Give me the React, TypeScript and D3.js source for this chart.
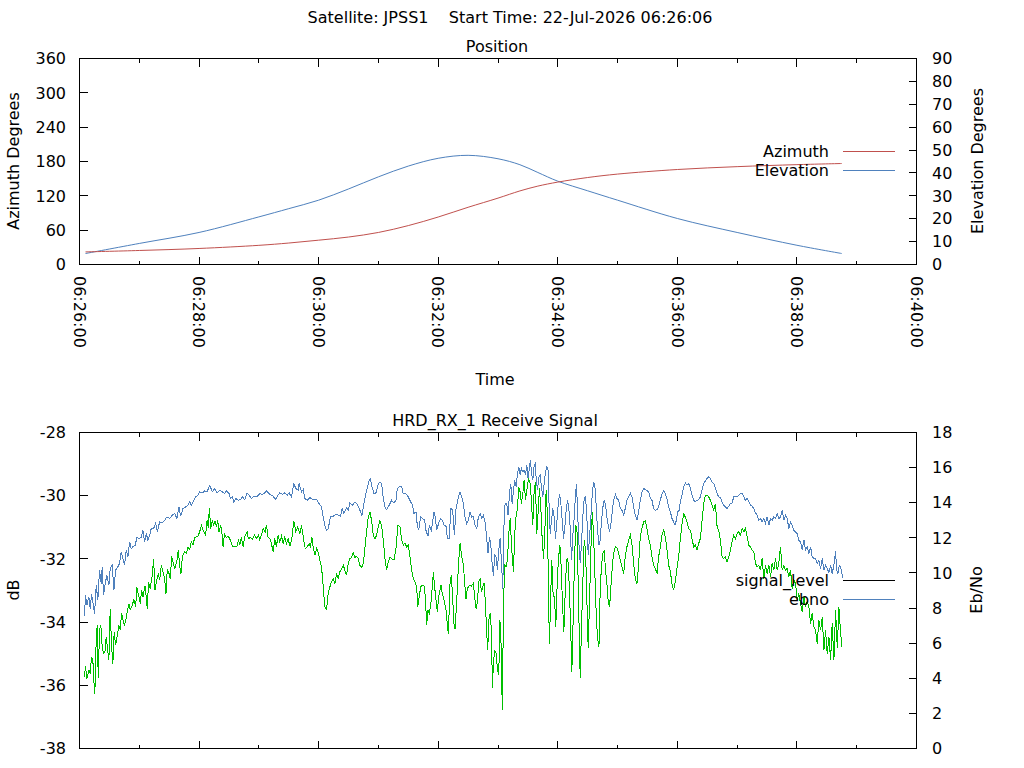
import React from 'react'
import * as d3 from 'd3'

// pass start, seconds are counted from 06:26:00 UTC
const passStart = Date.UTC(2026, 6, 22, 6, 26, 0)
const passEnd = Date.UTC(2026, 6, 22, 6, 40, 0)

const posTimes = [6, 60, 120, 180, 210, 240, 270, 300, 330, 360, 390, 420, 442, 460, 480, 510, 540, 600, 660, 720, 765]
const azimuth = [22, 24.5, 28, 33.5, 37.5, 42.5, 48, 56, 68, 83, 100, 116, 128.6, 137, 144, 152, 158, 166, 171, 174.5, 176.5]
const elevation = [4.8, 9.2, 14.0, 20.8, 24.4, 28.1, 33.0, 38.3, 43.0, 46.4, 47.7, 46.2, 43.6, 40.2, 36.4, 32.2, 28.1, 20.1, 14.0, 8.4, 4.8]

const azTicks = [0, 60, 120, 180, 240, 300, 360]
const elTicks = [0, 10, 20, 30, 40, 50, 60, 70, 80, 90]
const dbTicks = [-38, -36, -34, -32, -30, -28]
const ebTicks = [0, 2, 4, 6, 8, 10, 12, 14, 16, 18]

// [seconds, Eb/No]
const ebno: [number, number][] = [
  [5,7.54],[6,8.73],[7.4,8.16],[9.4,8.64],[10.7,7.97],[12.1,8.79],[14.1,8.07],[15.1,7.69],[16.8,9.30],[18.4,8.45],[20.1,10.16],[21.8,9.40],[22.8,10.35],[24.1,8.73],[26.1,9.49],[27.5,9.87],[29.5,9.30],[30.8,10.25],[32.8,10.44],[34.5,9.02],[36.2,10.16],[38.5,10.35],[40.2,10.54],[41.9,11.20],[43.6,10.82],[45.2,10.44],[46.9,11.30],[48.6,10.92],[50.3,11.77],[51.9,11.39],[53.6,11.49],[55.9,11.58],[57.6,12.02],[59.6,11.96],[62.0,12.02],[63.7,12.43],[65.3,11.77],[67.0,12.24],[68.7,11.86],[70.4,12.15],[72.0,12.53],[74.4,12.53],[76.4,12.85],[78.1,12.34],[80.4,12.91],[83.1,12.85],[85.4,13.00],[87.8,13.19],[90.5,13.10],[93.1,13.29],[95.5,13.38],[97.8,13.10],[99.8,13.76],[101.5,13.23],[103.9,13.67],[106.5,13.76],[108.9,13.86],[110.6,14.05],[112.2,13.86],[114.6,14.14],[116.6,14.33],[118.9,14.43],[120.6,14.62],[123.3,14.56],[125.6,14.67],[128.0,14.62],[130.7,14.99],[133.3,14.62],[135.7,14.81],[138.0,14.56],[140.7,14.71],[143.4,14.62],[145.7,14.52],[147.4,14.67],[150.1,14.52],[151.4,14.24],[153.4,14.33],[154.8,14.05],[156.8,14.24],[159.1,14.14],[161.5,14.18],[163.5,14.33],[165.8,14.18],[168.2,14.56],[170.9,14.37],[172.5,14.24],[174.9,14.37],[177.6,14.33],[180.9,14.52],[183.6,14.48],[185.9,14.56],[187.6,14.67],
  [191.0,14.48],[194.3,14.37],[197.0,14.18],[199.3,14.43],[201.0,14.56],[203.7,14.48],[206.0,14.56],[208.4,14.43],[210.4,14.56],[212.7,14.33],[215.1,15.09],[217.1,14.81],[219.4,14.71],[220.4,15.09],[222.8,14.62],[224.5,14.75],[226.1,14.24],[228.5,14.14],[231.2,14.29],[234.5,14.18],[237.9,14.18],[240.5,13.95],[242.9,13.76],[244.6,13.19],[246.2,12.72],[247.9,12.43],[249.6,12.53],[251.9,13.19],[254.6,13.23],[257.3,13.35],[259.6,13.29],[262.0,13.23],[263.6,13.67],[265.3,13.38],[268.0,13.72],[269.7,13.57],[271.4,13.99],[274.0,13.86],[276.4,14.05],[278.7,13.91],[281.4,13.57],[283.4,13.29],[285.4,13.95],[287.4,14.52],[289.1,14.90],[290.8,15.28],[292.1,15.38],[293.1,15.00],[295.5,14.52],[297.5,14.56],[299.5,15.00],[301.5,15.19],[303.2,15.09],[304.9,14.24],[306.5,13.76],[308.2,13.61],[310.9,13.86],[313.2,14.14],[315.6,13.99],[317.6,14.14],[318.9,14.81],[320.9,14.90],[323.3,14.94],[324.9,14.52],[327.6,14.52],[330.0,14.33],[332.3,14.05],[334.3,13.86],[335.7,13.38],[337.7,13.48],[339.0,12.72],[340.4,12.43],[342.4,13.19],[344.4,13.10],[346.4,13.00],[347.7,12.43],[349.7,12.09],[351.1,12.72],[353.1,12.43],[354.4,12.91],[355.8,13.48],[357.1,13.19],[358.5,12.43],[360.5,12.85],[362.5,13.10],[364.5,12.97],[365.8,12.72],[367.8,12.66],[369.2,11.96],[371.2,11.96],[372.5,13.67],[374.5,13.61],[376.2,12.15],[377.9,13.67],[380.2,14.33],
  [381.9,14.62],[383.6,14.33],[385.3,13.95],[386.9,13.19],[388.6,12.81],[390.3,13.00],[391.9,13.48],[393.6,13.19],[395.3,13.23],[397.0,12.72],[398.7,12.53],[400.3,13.19],[402.0,13.38],[403.7,13.10],[405.4,13.29],[407.0,12.91],[408.7,11.96],[410.0,11.11],[411.4,12.06],[412.7,11.68],[414.1,10.54],[415.4,9.81],[416.7,11.01],[418.1,10.92],[419.4,10.16],[420.8,11.30],[422.1,11.96],[423.4,10.73],[424.8,9.11],[425.8,12.43],[427.1,13.95],[428.8,13.95],[430.1,13.29],[431.5,14.52],[432.8,15.09],[434.2,13.95],[435.5,14.71],[436.8,15.28],[438.2,14.90],[439.5,15.66],[440.9,16.04],[442.2,15.57],[443.5,15.95],[444.9,15.76],[446.2,15.85],[447.6,15.57],[448.9,16.14],[450.2,15.38],[451.6,16.04],[452.6,16.42],[453.6,15.66],[454.9,15.28],[456.3,16.14],[457.3,16.23],[458.3,15.38],[459.6,14.71],[461.0,15.47],[462.3,15.57],[463.6,14.90],[465.0,14.33],[466.3,15.09],[467.7,15.76],[469.0,16.04],[470.3,15.85],[471.3,13.76],[472.4,12.24],[473.7,13.00],[475.0,13.67],[476.4,13.19],[477.7,11.96],[479.1,12.91],[480.4,13.86],[481.7,14.52],[483.1,13.95],[484.4,13.00],[485.8,11.96],[487.1,12.62],[488.4,13.57],[489.8,14.14],[491.1,13.67],[492.5,12.53],[493.8,10.73],[495.1,12.15],[496.5,13.19],[497.8,14.52],[498.8,15.09],[499.8,13.57],[501.2,11.68],[502.5,10.54],[503.8,11.68],[505.2,13.29],[506.5,14.24],[507.9,14.33],[509.2,13.19],[510.5,11.01],[511.9,12.06],[513.2,13.19],[514.6,14.52],[515.9,15.19],[517.2,15.00],[518.6,13.76],[519.9,12.43],[521.3,11.58],[522.6,11.86],[523.9,13.00],[525.3,13.76],[526.6,14.14],[527.9,13.86],[529.3,13.19],[530.6,12.72],[532.0,12.34],[533.3,12.81],[534.7,13.48],[536.0,14.14],[538.0,14.48],[539.4,14.24],[541.0,14.14],[542.7,13.67],[544.4,13.57],[546.1,13.29],[547.7,13.67],[549.4,14.14],[551.1,14.33],[552.8,14.56],[554.4,14.33],[556.1,13.76],[557.8,13.29],[559.5,13.00],[561.1,13.48],[562.8,14.14],[564.5,14.62],[566.2,14.81],[568.8,14.71],[571.2,14.62],
  [572.9,14.24],[574.5,14.14],[576.2,13.67],[577.9,13.57],[579.6,13.61],[581.2,13.76],[582.9,14.14],[584.6,14.52],[586.3,14.67],[587.9,14.52],[589.6,14.24],[591.3,13.76],[593.0,13.48],[594.6,13.10],[596.3,12.91],[597.6,12.72],[599.0,13.00],[600.3,13.48],[601.7,13.57],[603.0,14.05],[604.7,14.43],[606.4,14.90],[608.0,15.13],[609.7,15.00],[611.4,15.09],[613.1,14.81],[614.7,14.43],[616.4,14.14],[618.1,14.05],[619.8,14.14],[621.4,14.18],[623.1,14.33],[624.8,14.75],[626.5,15.09],[628.1,15.24],[629.8,15.38],[631.5,15.47],[633.2,15.38],[634.8,15.19],[636.5,15.09],[638.2,14.81],[639.9,14.52],[641.5,14.33],[643.2,14.29],[644.9,14.05],[646.6,13.86],[648.2,13.76],[649.9,13.67],[651.6,13.80],[653.3,13.95],[654.9,13.99],[656.6,14.33],[658.3,14.37],[660.0,14.33],[661.6,14.43],[663.3,14.52],[665.0,14.52],[666.7,14.33],[668.3,14.14],[670.0,14.24],[671.7,14.05],[673.4,13.86],[675.0,13.80],[676.7,13.67],[678.4,13.42],[680.1,13.29],[681.7,13.00],[683.4,13.10],[685.1,12.91],[686.8,13.10],[688.4,12.81],[690.1,13.19],[691.8,12.72],[693.5,13.10],[695.1,13.00],[696.8,13.19],[698.5,13.10],[700.2,13.38],[701.8,13.10],[703.5,13.19],[705.2,13.57],[706.9,13.00],[708.5,13.29],[710.2,13.10],[711.9,12.53],[713.6,12.91],[715.2,12.72],[716.9,12.43],[718.6,12.34],[720.3,12.24],[721.9,11.86],[723.6,11.77],[725.3,11.30],[727.0,11.90],[728.6,11.30],[730.3,11.49],[732.0,11.11],[733.7,11.49],[735.3,10.92],[737.0,10.82],[738.7,10.82],[740.4,10.54],[742.0,10.73],[743.7,10.25],[745.4,10.82],[747.1,10.16],[748.7,10.44],[750.4,10.25],[752.1,10.01],[753.8,10.44],[755.4,9.97],[757.1,10.44],[758.8,11.26],[759.8,10.16],[761.1,9.97],[762.5,10.44],[763.8,10.35],[765.1,9.97],[766.5,9.68],
]

// [seconds, Eb/No] green trace
const rxTrace: [number, number][] = [
  [5,4.08],[6,4.69],[7.4,3.99],[9.4,4.46],[10.7,4.27],[12.1,5.22],[13.4,5.03],[14.7,3.61],[15.4,3.10],[16.8,6.27],[17.8,7.02],[18.8,3.99],[20.1,6.74],[21.4,7.02],[22.8,5.79],[24.1,5.41],[25.5,5.51],[26.8,6.36],[28.1,5.70],[29.5,5.03],[30.8,7.92],[32.2,5.79],[33.5,4.84],[34.8,6.64],[36.2,5.89],[37.5,6.27],[39.5,7.02],[40.9,6.74],[42.2,7.73],[43.6,7.31],[44.9,7.02],[46.2,7.22],[47.6,7.69],[49.6,8.22],[50.9,7.92],[52.9,8.16],[54.6,8.49],[56.3,8.07],[57.6,9.17],[59.6,8.64],[61.0,8.26],[62.3,9.02],[63.7,8.64],[65.7,9.25],[67.0,8.64],[68.0,7.92],[69.3,9.49],[71.0,9.11],[73.0,9.87],[74.4,10.82],[75.7,9.02],[77.1,9.49],[79.1,9.97],[80.4,9.59],[82.1,10.44],[83.8,10.06],[85.4,9.68],[86.8,8.83],[88.1,10.20],[89.8,9.97],[91.1,9.68],[92.5,10.95],[94.5,10.44],[95.8,10.25],[97.8,10.73],[99.2,11.30],[100.5,10.44],[101.8,9.97],[103.2,10.92],[105.2,11.20],[107.2,11.11],[108.9,11.49],[110.6,11.33],[112.2,11.77],[113.9,11.58],[115.6,12.02],[117.3,12.06],[118.9,12.09],[120.6,12.34],[122.3,12.72],[124.0,12.43],[126.6,12.15],[128.0,13.00],[129.3,12.59],[130.3,13.67],[131.7,12.53],[133.3,13.00],[134.7,12.72],[136.0,12.97],[137.4,12.62],[138.7,13.00],[140.0,12.34],[141.7,12.72],[143.0,12.24],[144.1,11.49],[145.4,12.21],[147.4,12.02],[149.4,12.09],[151.4,11.86],[153.4,11.52],[155.8,11.52],[158.1,11.52],[159.5,11.90],[160.8,11.58],[162.5,12.02],[164.2,11.49],[165.8,12.06],[168.2,12.34],[169.5,11.96],[171.5,12.02],[173.5,11.90],[175.5,12.15],[177.6,11.96],[179.6,12.15],[180.9,11.90],[182.9,12.24],[184.3,12.53],[186.3,12.34],[187.6,12.72],[189.3,12.02],
  [191.0,11.96],[192.6,11.68],[194.3,11.20],[196.0,11.96],[197.6,11.49],[199.3,12.15],[201.0,11.77],[202.7,12.09],[204.4,11.68],[206.0,12.02],[207.7,11.68],[209.4,11.96],[211.1,11.52],[213.1,11.96],[215.1,12.97],[217.1,12.34],[219.1,12.62],[221.1,12.24],[222.8,12.72],[224.5,12.06],[226.5,11.39],[228.5,11.49],[230.5,11.68],[231.8,11.49],[233.2,12.06],[234.5,11.49],[236.2,11.01],[237.9,11.39],[239.5,11.20],[241.2,10.73],[242.9,10.35],[244.6,9.21],[246.2,8.07],[247.9,7.92],[249.6,8.83],[251.3,9.21],[252.9,9.49],[254.6,9.68],[256.3,9.40],[258.0,9.97],[259.6,9.68],[261.3,10.06],[263.0,10.25],[264.7,10.44],[266.3,10.16],[268.0,9.87],[269.7,10.54],[271.4,10.82],[273.0,10.88],[274.7,11.14],[276.4,10.88],[278.1,10.95],[279.7,10.82],[281.4,10.44],[283.1,10.31],[284.8,10.54],[286.4,11.39],[288.1,12.34],[289.8,13.19],[291.5,13.48],[293.1,13.00],[294.8,12.15],[296.5,11.96],[298.2,12.15],[299.8,12.62],[301.5,12.97],[303.2,12.72],[304.9,11.86],[306.5,10.82],[308.2,10.16],[309.9,10.63],[311.6,10.92],[313.2,10.82],[315.6,10.73],[317.6,11.39],[319.6,12.72],[321.6,12.62],[323.3,11.86],[325.0,11.58],[326.6,11.71],[328.3,11.49],[330.0,11.58],[331.7,10.92],[333.3,10.16],[335.0,9.68],[336.7,9.49],[338.4,9.21],[339.4,8.07],[341.0,8.64],[342.4,9.21],[343.7,9.30],[345.7,9.30],[347.1,8.64],[348.4,7.02],[349.7,7.88],[351.1,7.69],[352.8,8.35],[354.4,9.49],[355.1,10.06],[356.4,9.21],[357.8,8.45],[359.1,7.78],[360.5,8.64],[361.8,9.02],[362.8,9.30],[364.1,8.83],[365.2,8.64],[366.5,8.26],[367.8,7.88],[369.2,7.02],[370.2,6.55],[371.2,8.16],[371.9,9.49],[373.2,9.87],[374.5,8.54],[375.9,7.02],[376.9,6.83],[377.9,7.78],[379.2,9.11],[380.2,10.35],
  [381.9,11.68],[383.6,10.92],[385.3,10.44],[386.6,9.40],[387.9,8.54],[389.3,9.11],[391.3,9.30],[393.3,9.25],[395.3,9.40],[396.6,8.64],[398.0,7.97],[399.3,8.35],[400.7,9.49],[402.0,9.68],[403.3,8.92],[404.7,9.21],[406.0,9.40],[407.4,8.26],[408.7,6.55],[409.7,5.60],[410.7,7.31],[412.1,7.69],[413.4,6.74],[414.4,3.42],[415.4,4.84],[416.7,5.60],[418.1,5.41],[419.4,4.55],[420.8,4.17],[421.8,7.31],[422.8,6.74],[423.8,3.51],[424.4,2.18],[425.5,8.26],[426.8,10.44],[428.1,10.35],[429.5,10.73],[430.8,12.24],[432.2,13.10],[432.8,12.43],[434.2,11.01],[435.5,10.06],[436.8,12.24],[438.2,13.29],[439.5,13.67],[440.9,14.90],[442.2,14.62],[443.5,13.95],[444.9,14.52],[446.2,15.28],[447.6,14.14],[448.9,14.71],[450.6,15.38],[452.3,15.09],[453.6,14.05],[454.9,12.72],[456.3,14.71],[457.6,15.19],[458.9,12.24],[460.3,13.48],[461.6,14.81],[463.0,13.67],[464.3,11.96],[465.7,10.82],[467.0,12.34],[468.3,14.71],[469.7,13.19],[470.7,8.26],[471.7,5.98],[472.7,8.45],[474.0,10.73],[475.4,8.64],[476.7,8.64],[478.0,6.93],[479.4,9.40],[480.7,10.82],[482.1,11.58],[483.4,10.35],[484.7,8.26],[486.1,6.64],[487.4,8.83],[488.8,10.73],[490.1,10.82],[491.4,9.40],[492.8,7.12],[494.1,4.36],[495.5,7.50],[496.8,10.82],[498.1,12.72],[499.5,12.24],[500.8,8.45],[502.5,3.99],[503.8,6.93],[505.2,9.59],[506.5,11.86],[507.9,11.30],[509.2,8.45],[510.5,5.70],[511.9,8.45],[513.2,11.30],[514.6,13.48],[515.9,12.24],[517.2,9.97],[518.6,7.59],[519.9,6.27],[521.3,5.79],[522.6,9.11],[523.9,10.44],[525.3,11.11],[526.6,11.30],[527.9,10.16],[529.3,9.40],[530.6,8.35],[532.0,8.07],[533.3,9.21],[534.7,10.35],[536.0,11.11],[537.7,11.49],[539.4,11.45],[541.0,11.11],[542.7,10.73],[544.4,10.35],[546.1,9.97],[547.7,10.92],[549.4,11.49],[551.1,11.86],[552.8,12.15],[554.4,11.68],[556.1,10.54],[557.8,9.68],[559.5,9.40],[561.1,10.44],[562.8,12.06],[564.5,12.53],[566.2,12.91],[567.8,12.97],[569.5,12.53],[571.2,11.96],
  [572.9,11.58],[574.5,10.92],[576.2,10.44],[577.9,10.25],[579.6,9.97],[581.2,10.92],[582.9,11.49],[584.6,12.15],[586.3,12.43],[587.9,12.06],[589.6,11.30],[591.3,10.44],[593.0,10.06],[594.6,9.40],[596.3,9.02],[597.9,9.49],[599.6,10.25],[601.3,10.92],[603.0,11.96],[604.7,12.81],[606.4,13.35],[608.0,13.19],[609.7,12.91],[611.4,12.53],[613.1,12.43],[614.7,11.96],[616.4,11.49],[618.1,11.58],[619.8,11.30],[621.4,11.68],[623.1,11.96],[624.8,13.00],[626.5,13.95],[628.1,14.43],[629.8,14.43],[631.5,14.33],[633.2,14.14],[634.8,13.86],[636.5,13.57],[638.2,13.95],[639.9,12.62],[641.5,12.43],[643.2,11.86],[644.9,10.92],[646.6,10.82],[648.2,10.92],[649.9,10.63],[651.6,10.92],[653.3,11.30],[654.9,11.77],[656.6,12.15],[658.3,11.96],[660.0,12.24],[661.6,12.34],[663.3,12.15],[665.0,12.53],[666.7,12.34],[668.3,12.53],[670.0,12.06],[671.7,11.58],[673.4,11.49],[675.0,11.30],[676.7,11.20],[678.4,10.54],[680.1,10.35],[681.7,10.44],[683.4,10.16],[685.1,10.82],[686.8,9.68],[688.4,10.44],[690.1,9.97],[691.8,10.44],[693.5,9.78],[695.1,10.54],[696.8,10.16],[698.5,10.82],[700.2,10.16],[701.8,10.54],[703.5,11.49],[705.2,10.16],[706.9,10.44],[708.5,10.16],[710.2,10.25],[711.9,9.78],[713.6,10.16],[715.2,9.11],[716.9,9.59],[718.6,9.40],[720.3,8.45],[721.9,8.83],[723.6,8.26],[725.3,7.78],[727.0,8.64],[728.6,8.07],[730.3,8.35],[732.0,8.07],[733.7,7.12],[735.3,7.69],[737.0,6.93],[738.7,6.74],[740.4,5.98],[742.0,7.31],[743.7,6.74],[745.4,7.50],[747.1,5.60],[748.7,6.74],[750.4,5.41],[752.1,6.36],[753.8,5.03],[755.4,7.12],[757.1,5.03],[758.8,7.88],[760.5,5.70],[762.1,8.07],[763.8,6.64],[765.1,5.79],
]

const RED = '#c0504d'
const BLUE = '#4f81bd'
const GREEN = '#00c000'
const FONT = 'DejaVu Sans'

const L = 79.5, R = 916.5
const top1 = 58.5, bot1 = 264.5
const top2 = 432.5, bot2 = 748.5

const toDate = (s: number) => new Date(passStart + s * 1000)

const App: React.FC = () => {
  const x = d3.scaleUtc().domain([new Date(passStart), new Date(passEnd)]).range([L, R])
  const azY = d3.scaleLinear().domain([0, 360]).range([bot1, top1])
  const elY = d3.scaleLinear().domain([0, 90]).range([bot1, top1])
  const dbY = d3.scaleLinear().domain([-38, -28]).range([bot2, top2])
  const ebY = d3.scaleLinear().domain([0, 18]).range([bot2, top2])

  const majorX = x.ticks(d3.utcMinute.every(2) as d3.TimeInterval)
  const minorX = x.ticks(d3.utcMinute.every(1) as d3.TimeInterval).filter(d => d.getUTCMinutes() % 2 === 1)
  const fmt = d3.utcFormat('%H:%M:%S')

  const smooth = d3.curveCatmullRom.alpha(0.5)
  const azLine = d3.line<number>().x((_, i) => x(toDate(posTimes[i]))).y(d => azY(d)).curve(smooth)
  const elLine = d3.line<number>().x((_, i) => x(toDate(posTimes[i]))).y(d => elY(d)).curve(smooth)
  const sigLine = d3.line<[number, number]>().x(d => x(toDate(d[0]))).y(d => ebY(d[1]))

  const xTicks = (yb: number, yt: number) => (
    <g stroke="#000" strokeWidth={1} shapeRendering="crispEdges">
      {majorX.map((d, i) => (
        <g key={'M' + i}>
          <line x1={x(d)} x2={x(d)} y1={yb} y2={yb - 8} />
          <line x1={x(d)} x2={x(d)} y1={yt} y2={yt + 8} />
        </g>
      ))}
      {minorX.map((d, i) => (
        <g key={'m' + i}>
          <line x1={x(d)} x2={x(d)} y1={yb} y2={yb - 4} />
          <line x1={x(d)} x2={x(d)} y1={yt} y2={yt + 4} />
        </g>
      ))}
    </g>
  )

  const yAxisLeft = (ticks: number[], s: d3.ScaleLinear<number, number>) => (
    <g>
      {ticks.map(t => (
        <g key={t}>
          <line x1={L} x2={L + 8} y1={s(t)} y2={s(t)} stroke="#000" shapeRendering="crispEdges" />
          <text x={66} y={s(t)} dy="0.36em" textAnchor="end">{t}</text>
        </g>
      ))}
    </g>
  )
  const yAxisRight = (ticks: number[], s: d3.ScaleLinear<number, number>) => (
    <g>
      {ticks.map(t => (
        <g key={t}>
          <line x1={R} x2={R - 8} y1={s(t)} y2={s(t)} stroke="#000" shapeRendering="crispEdges" />
          <text x={932} y={s(t)} dy="0.36em" textAnchor="start">{t}</text>
        </g>
      ))}
    </g>
  )

  const legend = (items: { label: string; color: string }[], y0: number, gap: number) => (
    <g>
      {items.map((it, i) => (
        <g key={it.label}>
          <text x={829} y={y0 + i * gap} dy="0.36em" textAnchor="end">{it.label}</text>
          <line x1={843} x2={895} y1={y0 + i * gap} y2={y0 + i * gap} stroke={it.color} shapeRendering="crispEdges" />
        </g>
      ))}
    </g>
  )

  return (
    <svg width={1024} height={768} style={{ position: 'absolute', left: 0, top: 0, background: '#fff' }}
      fontFamily={FONT} fontSize={16} fill="#000">
      <rect width={1024} height={768} fill="#fff" />
      <text x={510} y={17} dy="0.36em" textAnchor="middle" style={{ whiteSpace: 'pre' }}>
        {'Satellite: JPSS1    Start Time: 22-Jul-2026 06:26:06'}
      </text>

      {/* Position panel */}
      <text x={497} y={46} dy="0.36em" textAnchor="middle">Position</text>
      <path d={elLine(elevation) || ''} fill="none" stroke={BLUE} strokeWidth={1} />
      <path d={azLine(azimuth) || ''} fill="none" stroke={RED} strokeWidth={1} />
      <rect x={L} y={top1} width={R - L} height={bot1 - top1} fill="none" stroke="#000" shapeRendering="crispEdges" />
      {xTicks(bot1, top1)}
      {yAxisLeft(azTicks, azY)}
      {yAxisRight(elTicks, elY)}
      {majorX.map((d, i) => (
        <text key={i} transform={`translate(${x(d)},276) rotate(90)`} dy="0.36em" textAnchor="start">{fmt(d)}</text>
      ))}
      <text transform="translate(13,161) rotate(-90)" dy="0.36em" textAnchor="middle">Azimuth Degrees</text>
      <text transform="translate(977,161) rotate(-90)" dy="0.36em" textAnchor="middle">Elevation Degrees</text>
      <text x={495} y={379} dy="0.36em" textAnchor="middle">Time</text>
      {legend([{ label: 'Azimuth', color: RED }, { label: 'Elevation', color: BLUE }], 151, 19)}

      {/* Receive signal panel */}
      <text x={495} y={420} dy="0.36em" textAnchor="middle">HRD_RX_1 Receive Signal</text>
      <path d={sigLine(ebno) || ''} fill="none" stroke={BLUE} strokeWidth={1} shapeRendering="crispEdges" />
      <path d={sigLine(rxTrace) || ''} fill="none" stroke={GREEN} strokeWidth={1} shapeRendering="crispEdges" />
      <rect x={L} y={top2} width={R - L} height={bot2 - top2} fill="none" stroke="#000" shapeRendering="crispEdges" />
      {xTicks(bot2, top2)}
      {yAxisLeft(dbTicks, dbY)}
      {yAxisRight(ebTicks, ebY)}
      <text transform="translate(13,590) rotate(-90)" dy="0.36em" textAnchor="middle">dB</text>
      <text transform="translate(976,590) rotate(-90)" dy="0.36em" textAnchor="middle">Eb/No</text>
      {legend([{ label: 'signal_level', color: '#000' }, { label: 'ebno', color: BLUE }], 580, 19)}
    </svg>
  )
}

export default App
